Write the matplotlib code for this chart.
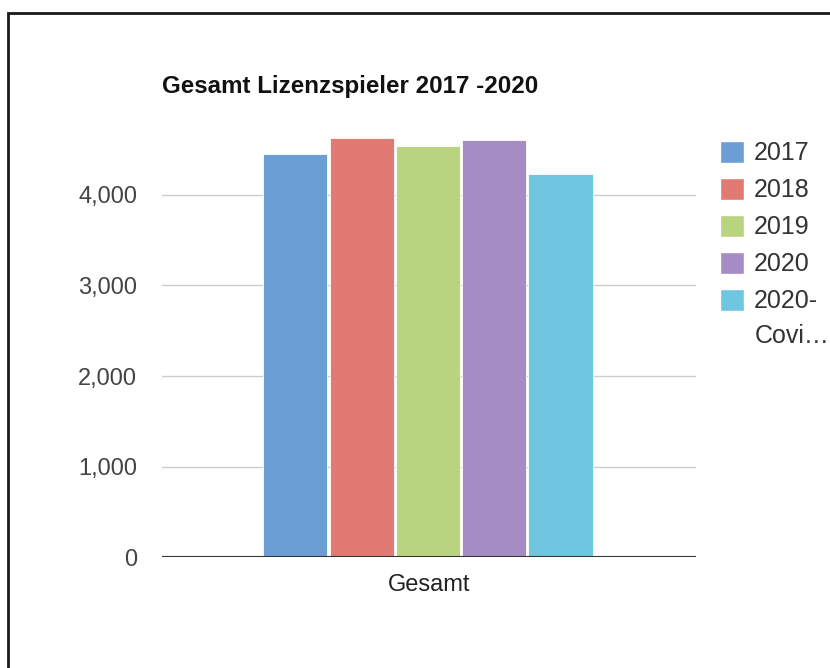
import matplotlib.pyplot as plt
from matplotlib.patches import Rectangle, Patch

plt.rcParams['font.family'] = ['Liberation Sans', 'DejaVu Sans']

# data
category = "Gesamt"
seasons = ["2017", "2018", "2019", "2020", "2020-Covid"]
players = [4450, 4625, 4540, 4605, 4232]
legendLabels = ["2017", "2018", "2019", "2020", "2020-"]
colors = ["#6c9ed6", "#e07a73", "#b8d47f", "#a68cc4", "#6ec6e1"]
yTicks = [0, 1000, 2000, 3000, 4000]

fig = plt.figure(figsize=(8.3, 6.68), dpi=100)

# outer frame (runs off the right and bottom edge of the picture)
fig.patches.append(Rectangle((8 / 830, -0.1), 1.2, 1 - 13 / 668 + 0.1,
                             transform=fig.transFigure, fill=False,
                             edgecolor="#1a1a1a", linewidth=2))

ax = fig.add_axes([162 / 830, 1 - 557 / 668, 534 / 830, (557 - 104.5) / 668])

width = 0.12
pitch = 0.1241
for i in range(len(players)):
    xPos = (i - 2) * pitch - 0.002
    ax.bar(xPos, players[i], width=width, color=colors[i],
           edgecolor="white", linewidth=0.6, zorder=3)

ax.set_xlim(-0.5, 0.5)
ax.set_ylim(0, 5000)
ax.set_yticks(yTicks)
ax.set_yticklabels([f"{v:,}" for v in yTicks], fontsize=17, color="#444444")
ax.set_xticks([0])
ax.set_xticklabels([category], fontsize=17, color="#222222")
ax.tick_params(axis="y", length=0, pad=18)
ax.tick_params(axis="x", length=0, pad=12)

for v in yTicks[1:]:
    ax.axhline(v, color="#cccccc", linewidth=1, zorder=1)
ax.axhline(0, color="#333333", linewidth=1.5, zorder=4)

for s in ax.spines.values():
    s.set_visible(False)

fig.text(162 / 830, 1 - 87 / 668, "Gesamt Lizenzspieler 2017 -2020",
         fontsize=17.4, fontweight="bold", va="center", ha="left", color="#111111")

handles = [Patch(facecolor=c, edgecolor="white") for c in colors]
leg = fig.legend(handles, legendLabels, loc="upper left",
                 bbox_to_anchor=(700 / 830, 1 - 121 / 668), frameon=False,
                 fontsize=18, handlelength=0.96, handleheight=0.96,
                 handletextpad=0.4, labelspacing=0.5, borderpad=0.3)
for t in leg.get_texts():
    t.set_color("#333333")

# second line of the truncated last legend label
fig.text(755 / 830, 1 - 336 / 668, "Covi\u2026", fontsize=18,
         va="center", ha="left", color="#333333")

fig.savefig("out.png", dpi=100)
